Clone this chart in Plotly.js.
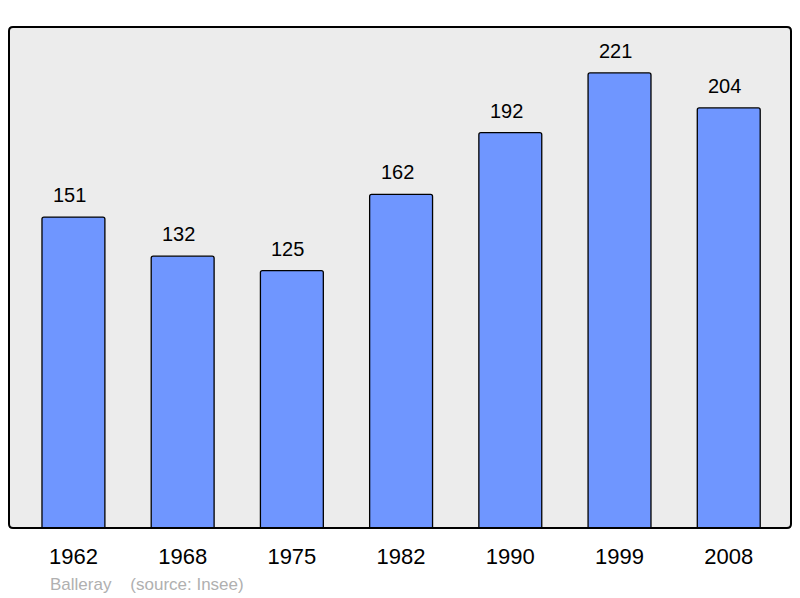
<!DOCTYPE html>
<html>
<head>
<meta charset="utf-8">
<script src="https://cdn.plot.ly/plotly-3.0.1.min.js"></script>
<style>html,body{margin:0;padding:0;background:#fff;}#chart{width:800px;height:598px;}</style>
</head>
<body>
<div id="chart"></div>
<script>
const years = ["1962", "1968", "1975", "1982", "1990", "1999", "2008"];
const population = [151, 132, 125, 162, 192, 221, 204];
const sourceText = "Balleray    (source: Insee)";

const L = 9, R = 9, T = 27, B = 70, W = 800, H = 598;
const pw = W - L - R, ph = H - T - B;
const rx = 4 / pw, ry = 4 / ph;
const framePath = `M ${rx} 0 L ${1 - rx} 0 Q 1 0 1 ${ry} L 1 ${1 - ry} Q 1 1 ${1 - rx} 1 L ${rx} 1 Q 0 1 0 ${1 - ry} L 0 ${ry} Q 0 0 ${rx} 0 Z`;

const trace = {
  type: 'bar',
  x: years,
  y: population,
  width: 0.576,
  marker: { color: '#6f96ff', line: { color: '#000', width: 1.3 }, cornerradius: 2 },
  hoverinfo: 'none'
};

const annotations = years.map((yr, i) => ({
  x: i, y: population[i], xref: 'x', yref: 'y',
  text: String(population[i]), showarrow: false,
  yanchor: 'bottom', yshift: 9, xshift: -4,
  font: { family: 'Liberation Sans, Arial, sans-serif', size: 20, color: '#000' }
}));
annotations.push({
  xref: 'paper', yref: 'paper', x: 39 / pw, y: -(584 - 528) / ph,
  xanchor: 'left', yanchor: 'middle', showarrow: false,
  text: sourceText.replace(/ /g, '&nbsp;'),
  font: { family: 'Liberation Sans, Arial, sans-serif', size: 17, color: '#b0b0b0' }
});

const layout = {
  width: W, height: H,
  margin: { l: L, r: R, t: T, b: B, pad: 0 },
  paper_bgcolor: '#ffffff',
  plot_bgcolor: 'rgba(0,0,0,0)',
  showlegend: false,
  xaxis: {
    type: 'category', range: [-0.59, 6.57],
    showgrid: false, zeroline: false, showline: false,
    ticks: 'outside', ticklen: 9, tickcolor: 'rgba(0,0,0,0)',
    tickfont: { family: 'Liberation Sans, Arial, sans-serif', size: 22, color: '#000' },
    fixedrange: true
  },
  yaxis: {
    range: [0, 243.3], showgrid: false, zeroline: false, showline: false,
    showticklabels: false, ticks: '', fixedrange: true
  },
  shapes: [
    { type: 'path', xref: 'paper', yref: 'paper', path: framePath,
      fillcolor: '#ececec', line: { width: 0 }, layer: 'below' },
    { type: 'path', xref: 'paper', yref: 'paper', path: framePath,
      fillcolor: 'rgba(0,0,0,0)', line: { color: '#000', width: 2 }, layer: 'above' }
  ],
  annotations: annotations
};

Plotly.newPlot('chart', [trace], layout, { staticPlot: true, displayModeBar: false });
</script>
</body>
</html>
